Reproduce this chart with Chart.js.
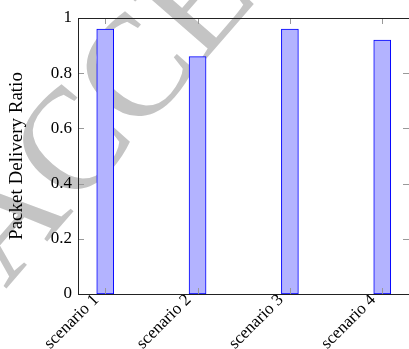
<!DOCTYPE html>
<html>
<head>
<meta charset="utf-8">
<script src="https://cdn.jsdelivr.net/npm/chart.js@4.4.0/dist/chart.umd.min.js"></script>
<style>
  html, body { margin: 0; padding: 0; background: #fff; }
  #wrap { width: 409px; height: 349px; position: relative; }
</style>
</head>
<body>
<div id="wrap"><canvas id="chart-pdr"></canvas></div>
<script>
const scenarios = ['scenario 1', 'scenario 2', 'scenario 3', 'scenario 4'];
const pdrValues = [0.96, 0.86, 0.96, 0.92];
const yTicks = [0, 0.2, 0.4, 0.6, 0.8, 1];

const serif = '"Liberation Serif", "DejaVu Serif", serif';

// grey "ACCEPTED" watermark behind the plot
const watermark = {
    id: 'watermark',
    beforeDraw(chart) {
        const ctx = chart.ctx;
        ctx.save();
        ctx.font = '145px ' + serif;
        ctx.fillStyle = '#c4c4c4';
        ctx.translate(106, 174);
        ctx.rotate(-49 * Math.PI / 180);
        const off = ctx.measureText('A').width + ctx.measureText('C').width / 2;
        ctx.textAlign = 'left';
        ctx.textBaseline = 'alphabetic';
        ctx.fillText('ACCEPTED MANUSCRIPT', -off, 0);
        ctx.restore();
    }
};

// pgfplots style box with inward ticks on all sides
const frame = {
    id: 'frame',
    afterDatasetsDraw(chart) {
        const { ctx, chartArea: a, scales } = chart;
        ctx.save();
        ctx.strokeStyle = '#999';
        ctx.lineWidth = 1;
        ctx.beginPath();
        yTicks.forEach(v => {
            const y = Math.round(scales.y.getPixelForValue(v)) + 0.5;
            ctx.moveTo(a.left, y); ctx.lineTo(a.left + 6, y);
            ctx.moveTo(a.right, y); ctx.lineTo(a.right - 6, y);
        });
        scenarios.forEach((s, i) => {
            const x = Math.round(scales.x.getPixelForValue(i + 1)) + 0.5;
            ctx.moveTo(x, a.top); ctx.lineTo(x, a.top + 6);
            ctx.moveTo(x, a.bottom); ctx.lineTo(x, a.bottom - 6);
        });
        ctx.stroke();
        ctx.strokeStyle = '#222';
        ctx.strokeRect(Math.round(a.left) + 0.5, Math.round(a.top) + 0.5,
            Math.round(a.right - a.left), Math.round(a.bottom - a.top));
        ctx.restore();
    }
};

new Chart(document.getElementById('chart-pdr').getContext('2d'), {
    type: 'bar',
    data: {
        datasets: [{
            label: 'PDR',
            data: pdrValues.map((v, i) => ({ x: i + 1, y: v })),
            backgroundColor: '#b3b3ff',
            borderColor: '#0000ff',
            borderWidth: 1,
            borderSkipped: false,
            barThickness: 17
        }]
    },
    options: {
        responsive: true,
        maintainAspectRatio: false,
        animation: false,
        layout: { padding: { top: 18, right: 0, left: 0, bottom: 0 } },
        plugins: {
            legend: { display: false },
            tooltip: { enabled: false }
        },
        scales: {
            x: {
                type: 'linear',
                offset: false,
                min: 0.705,
                max: 4.29,
                grid: { display: false, drawTicks: false, offset: false },
                border: { display: false },
                afterBuildTicks: s => { s.ticks = scenarios.map((c, i) => ({ value: i + 1 })); },
                afterFit: s => { s.height = 55; },
                ticks: {
                    autoSkip: false,
                    minRotation: 45,
                    maxRotation: 45,
                    padding: -4,
                    labelOffset: -9,
                    color: '#000',
                    font: { family: serif, size: 17 },
                    callback: v => scenarios[v - 1]
                }
            },
            y: {
                min: 0,
                max: 1,
                grid: { display: false, drawTicks: false },
                border: { display: false },
                afterBuildTicks: s => { s.ticks = yTicks.map(v => ({ value: v })); },
                afterFit: s => { s.width = 78; },
                title: {
                    display: true,
                    text: 'Packet Delivery Ratio',
                    color: '#000',
                    font: { family: serif, size: 19 },
                    padding: { top: 6, bottom: 0 }
                },
                ticks: {
                    padding: 6,
                    color: '#000',
                    font: { family: serif, size: 17 },
                    callback: v => String(+v.toFixed(1))
                }
            }
        }
    },
    plugins: [watermark, frame]
});
</script>
</body>
</html>
